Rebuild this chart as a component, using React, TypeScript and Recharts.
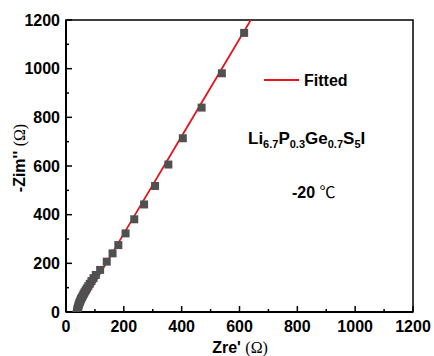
import {
  ComposedChart,
  Line,
  Scatter,
  XAxis,
  YAxis,
  ReferenceArea,
} from "recharts";

// measured impedance (Zre', -Zim'), ohm
const zre = [
  36, 37, 38, 39, 40, 41, 43, 44, 46, 48, 50, 52, 55, 58, 61, 64, 68, 72, 77,
  82, 88, 95, 103, 118, 141, 161, 181, 206, 236, 270, 308, 354, 404, 469, 539,
  616,
];
const zim = [
  -12, -6, 0, 6, 12, 18, 24, 30, 36, 42, 48, 54, 60, 67, 74, 81, 89, 97, 106,
  116, 127, 139, 152, 173, 207, 241, 275, 323, 381, 442, 518, 606, 714, 840,
  981, 1147,
];

// fitted line
const fitZre = [43, 200, 400, 639];
const fitZim = [8, 322, 722, 1200];

const axisTicks = [0, 100, 200, 300, 400, 500, 600, 700, 800, 900, 1000, 1100, 1200];
const labelledTicks = [0, 200, 400, 600, 800, 1000, 1200];

const measured = zre.map((x, i) => ({ x, y: zim[i] }));
const fitted = fitZre.map((x, i) => ({ x, y: fitZim[i] }));

const FONT = '"Liberation Sans", Arial, sans-serif';
const SQUARE = "#505050";
const RED = "#e3161d";

function XTick({ x, y, payload }: any) {
  const major = labelledTicks.includes(payload.value);
  return (
    <g>
      <line x1={x} y1={y} x2={x} y2={y - (major ? 6 : 3)} stroke="#000" strokeWidth={1.5} />
      {major && (
        <text x={x} y={y + 20} textAnchor="middle" fontFamily={FONT} fontWeight="bold" fontSize={16} fill="#000">
          {payload.value}
        </text>
      )}
    </g>
  );
}

function YTick({ x, y, payload }: any) {
  const major = labelledTicks.includes(payload.value);
  return (
    <g>
      <line x1={x} y1={y} x2={x + (major ? 6 : 3)} y2={y} stroke="#000" strokeWidth={1.5} />
      {major && (
        <text x={x - 6} y={y} dy="0.36em" textAnchor="end" fontFamily={FONT} fontWeight="bold" fontSize={16} fill="#000">
          {payload.value}
        </text>
      )}
    </g>
  );
}

export default function App() {
  return (
    <div style={{ position: "relative", width: 434, height: 356, background: "#fff" }}>
      <style>{"body{margin:0}"}</style>
      <ComposedChart
        width={434}
        height={356}
        margin={{ top: 20, right: 21, bottom: 0, left: 10 }}
      >
        <XAxis
          type="number"
          dataKey="x"
          domain={[0, 1200]}
          ticks={axisTicks}
          interval={0}
          allowDataOverflow
          height={44}
          tickSize={0}
          tickMargin={0}
          tickLine={false}
          tick={<XTick />}
          axisLine={{ stroke: "#000", strokeWidth: 2 }}
        />
        <YAxis
          type="number"
          dataKey="y"
          domain={[0, 1200]}
          ticks={axisTicks}
          interval={0}
          allowDataOverflow
          width={56}
          tickSize={0}
          tickMargin={0}
          tickLine={false}
          tick={<YTick />}
          axisLine={{ stroke: "#000", strokeWidth: 2 }}
        />
        <ReferenceArea x1={0} x2={1200} y1={0} y2={1200} fill="none" stroke="#000" strokeWidth={1.5} />
        <Scatter
          data={measured}
          dataKey="y"
          shape="square"
          fill={SQUARE}
          isAnimationActive={false}
        />
        <Line
          data={fitted}
          dataKey="y"
          type="linear"
          stroke={RED}
          strokeWidth={1.8}
          dot={false}
          activeDot={false}
          isAnimationActive={false}
        />
      </ComposedChart>
      <svg
        width={434}
        height={356}
        style={{ position: "absolute", left: 0, top: 0, pointerEvents: "none" }}
        fontFamily={FONT}
      >
        {/* legend */}
        <line x1={264} y1={80} x2={299} y2={80} stroke={RED} strokeWidth={2} />
        <text x={304} y={86} fontSize={16} fontWeight="bold" fill="#000">
          Fitted
        </text>
        {/* composition */}
        <text x={248} y={144} fontSize={17} fontWeight="bold" fill="#000">
          Li<tspan fontSize={11} dy={4}>6.7</tspan>
          <tspan dy={-4}>P</tspan><tspan fontSize={11} dy={4}>0.3</tspan>
          <tspan dy={-4}>Ge</tspan><tspan fontSize={11} dy={4}>0.7</tspan>
          <tspan dy={-4}>S</tspan><tspan fontSize={11} dy={4}>5</tspan>
          <tspan dy={-4}>I</tspan>
        </text>
        <text x={292} y={198} fontSize={16} fill="#000">
          <tspan fontWeight="bold">-20 </tspan>
          <tspan fontFamily='"Noto Sans CJK SC", sans-serif' fontWeight="normal">℃</tspan>
        </text>
        {/* axis titles */}
        <text x={240} y={353} fontSize={16} textAnchor="middle" fill="#000">
          <tspan fontWeight="bold">Zre' </tspan>
          <tspan fontFamily='"Liberation Serif", serif'>(Ω)</tspan>
        </text>
        <text
          x={0}
          y={0}
          fontSize={16}
          textAnchor="middle"
          fill="#000"
          transform="translate(25 158) rotate(-90)"
        >
          <tspan fontWeight="bold">-Zim'' </tspan>
          <tspan fontFamily='"Liberation Serif", serif'>(Ω)</tspan>
        </text>
      </svg>
    </div>
  );
}
